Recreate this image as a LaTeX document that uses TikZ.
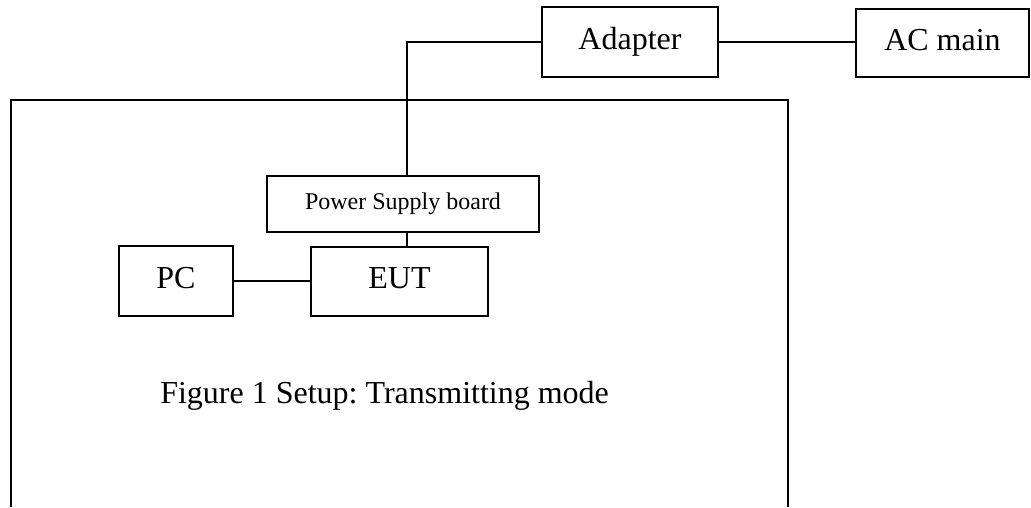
\documentclass[tikz,border=0pt]{standalone}
\usepackage{fontspec}
\setmainfont{Liberation Serif}
\begin{document}
\frenchspacing
\begin{tikzpicture}[x=0.75pt,y=-0.75pt,
  box/.style={draw,line width=1.1pt,rectangle,inner sep=0pt,text height=16.3pt,text depth=5.3pt,font=\fontsize{24}{28}\selectfont},
  smallbox/.style={box,text height=12.2pt,text depth=4pt,font=\fontsize{18}{22}\selectfont},
  wire/.style={line width=1.1pt}]
\useasboundingbox (0,0) rectangle (1031,507);
% enclosure (bottom edge beyond the picture)
\draw[wire,line width=1.4pt] (11,507) -- (11,100) -- (788,100) -- (788,507);
\node[box,minimum width=132pt,minimum height=52.5pt] (adapter) at (630,42) {Adapter};
\node[box,minimum width=129.75pt,minimum height=51pt] (acmain) at (942.5,43) {AC main};
\node[smallbox,minimum width=204pt,minimum height=42pt] (ps) at (403,204) {Power Supply board};
\node[box,minimum width=132.75pt,minimum height=51.75pt] (eut) at (399.5,281.5) {EUT};
\node[box,minimum width=85.5pt,minimum height=52.5pt] (pc) at (176,281) {PC};
\node[font=\fontsize{24}{28}\selectfont,anchor=base west,inner sep=0pt] (cap) at (160,403) {Figure 1 Setup: Transmitting mode};
\coordinate (corner) at (407,42);
\draw[wire] (adapter.east) -- (acmain.west |- adapter.east);
\draw[wire] (adapter.west) -- (corner) -- (corner |- ps.north);
\draw[wire] (corner |- ps.south) -- (corner |- eut.north);
\draw[wire] (pc.east) -- (eut.west |- pc.east);
\end{tikzpicture}
\end{document}
